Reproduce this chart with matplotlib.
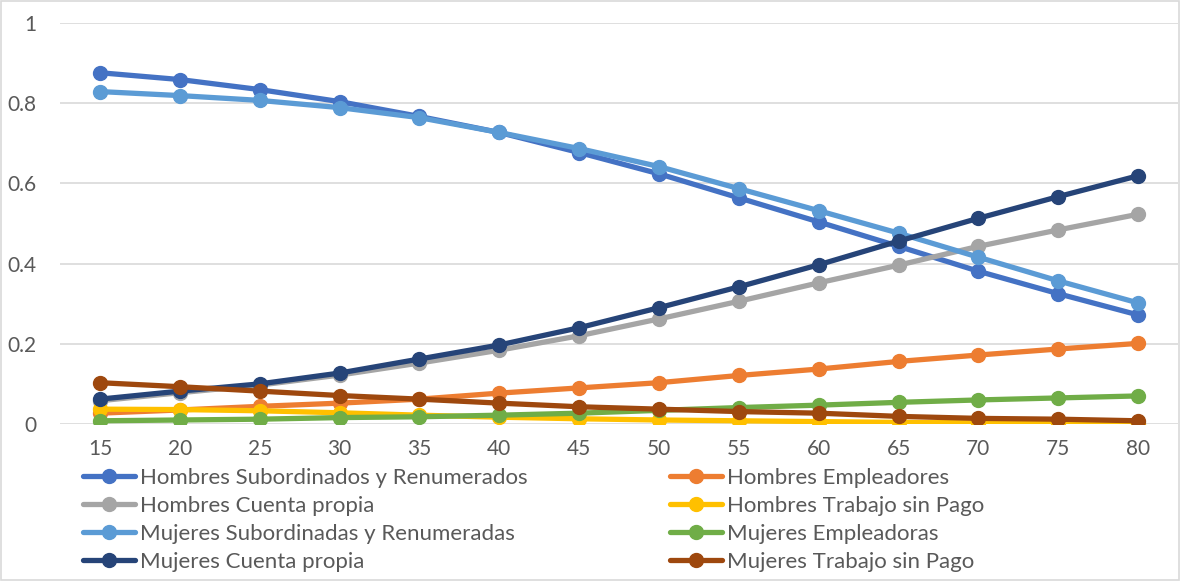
import matplotlib.pyplot as plt
from matplotlib.patches import Rectangle

plt.rcParams['font.family'] = ['Lato', 'DejaVu Sans']

# Edades
edades = [15, 20, 25, 30, 35, 40, 45, 50, 55, 60, 65, 70, 75, 80]

# Proporciones por tipo de ocupacion
h_subordinados = [0.876, 0.859, 0.834, 0.804, 0.767, 0.727, 0.677, 0.624, 0.564, 0.504, 0.443, 0.381, 0.325, 0.272]
h_empleadores = [0.027, 0.035, 0.044, 0.052, 0.062, 0.077, 0.090, 0.103, 0.121, 0.137, 0.156, 0.172, 0.187, 0.201]
h_cuenta_propia = [0.058, 0.078, 0.097, 0.122, 0.152, 0.184, 0.220, 0.262, 0.306, 0.352, 0.396, 0.443, 0.484, 0.523]
h_sin_pago = [0.037, 0.036, 0.033, 0.028, 0.022, 0.017, 0.013, 0.010, 0.008, 0.006, 0.004, 0.003, 0.002, 0.001]
m_subordinadas = [0.829, 0.819, 0.807, 0.789, 0.764, 0.727, 0.687, 0.642, 0.587, 0.532, 0.476, 0.416, 0.357, 0.302]
m_empleadoras = [0.008, 0.010, 0.012, 0.016, 0.018, 0.022, 0.027, 0.034, 0.041, 0.047, 0.054, 0.060, 0.065, 0.070]
m_cuenta_propia = [0.062, 0.082, 0.100, 0.127, 0.162, 0.197, 0.240, 0.290, 0.342, 0.397, 0.456, 0.513, 0.567, 0.619]
m_sin_pago = [0.103, 0.093, 0.082, 0.071, 0.062, 0.052, 0.043, 0.037, 0.031, 0.027, 0.019, 0.014, 0.012, 0.008]

series = [
    ("Hombres Subordinados y Renumerados", h_subordinados, "#4472C4"),
    ("Hombres Empleadores", h_empleadores, "#ED7D31"),
    ("Hombres Cuenta propia", h_cuenta_propia, "#A5A5A5"),
    ("Hombres Trabajo sin Pago", h_sin_pago, "#FFC000"),
    ("Mujeres Subordinadas y Renumeradas", m_subordinadas, "#5B9BD5"),
    ("Mujeres Empleadoras", m_empleadoras, "#70AD47"),
    ("Mujeres Cuenta propia", m_cuenta_propia, "#264478"),
    ("Mujeres Trabajo sin Pago", m_sin_pago, "#9E480E"),
]

y_ticks = [0, 0.2, 0.4, 0.6, 0.8, 1]
y_labels = ["0", "0.2", "0.4", "0.6", "0.8", "1"]

fig = plt.figure(figsize=(11.8, 5.81), dpi=100)
ax = fig.add_axes([60 / 1180, 1 - 424 / 581, 1118 / 1180, 401 / 581])

handles = []
for name, vals, color in series:
    line, = ax.plot(edades, vals, color=color, linewidth=3.8, marker="o",
                    markersize=10, solid_capstyle="round", label=name)
    handles.append(line)

ax.set_xlim(12.5, 82.5)
ax.set_ylim(0, 1)
ax.set_xticks(edades)
ax.set_xticklabels([str(e) for e in edades])
ax.set_yticks(y_ticks)
ax.set_yticklabels(y_labels)
ax.grid(axis="y", color="#D9D9D9", linewidth=1.2)
ax.set_axisbelow(True)
for s in ax.spines.values():
    s.set_visible(False)
ax.tick_params(length=0, colors="#595959", labelsize=15)
ax.tick_params(axis="x", pad=11)
ax.tick_params(axis="y", pad=17)

# Leyenda en dos columnas
leg_kw = dict(loc="upper left", frameon=False, fontsize=16, borderpad=0,
              borderaxespad=0, handlelength=2.35, handletextpad=0.22,
              labelspacing=0.36, labelcolor="#595959")
leg1 = fig.legend(handles[0::2], [h.get_label() for h in handles[0::2]],
                  bbox_to_anchor=(83 / 1180, 1 - 468 / 581), **leg_kw)
leg2 = fig.legend(handles[1::2], [h.get_label() for h in handles[1::2]],
                  bbox_to_anchor=(670 / 1180, 1 - 468 / 581), **leg_kw)

# Borde del grafico
fig.patches.append(Rectangle((0.001, 0.001), 0.998, 0.997, transform=fig.transFigure,
                             fill=False, edgecolor="#D9D9D9", linewidth=1.2))

fig.savefig("out.png", dpi=100)
